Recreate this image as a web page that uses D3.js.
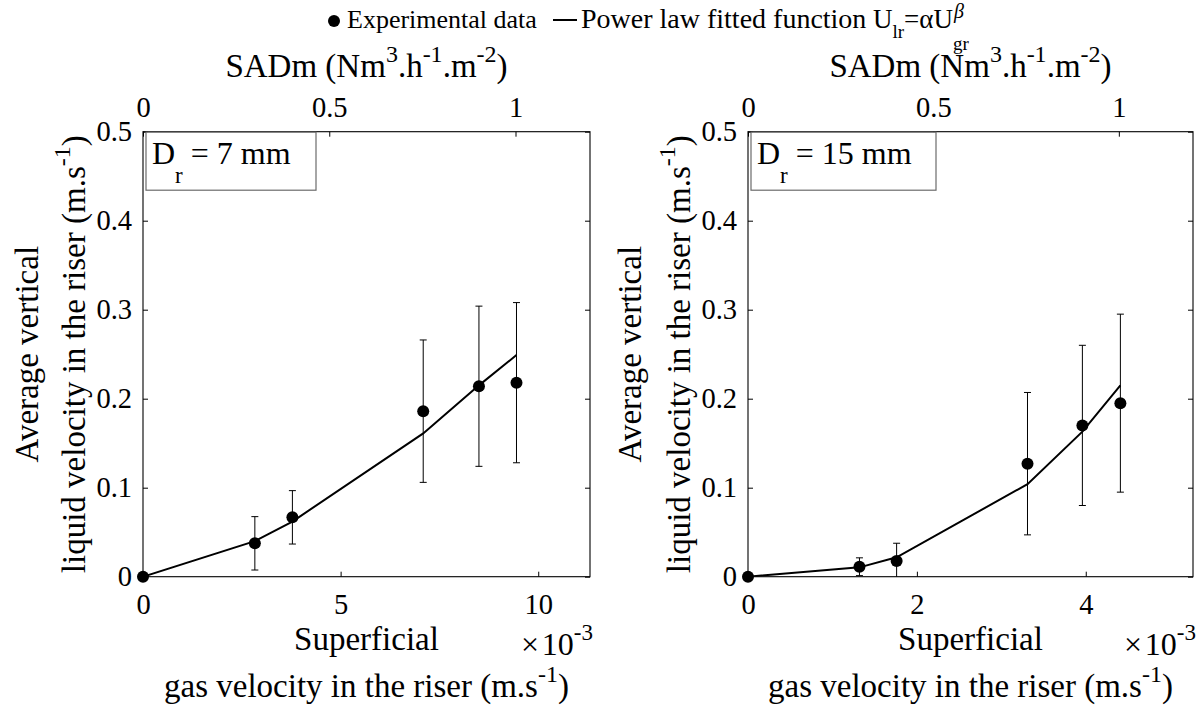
<!DOCTYPE html>
<html>
<head>
<meta charset="utf-8">
<script src="https://cdn.jsdelivr.net/npm/d3@7"></script>
<style>
  html, body { margin: 0; padding: 0; background: #fff; }
  svg { display: block; }
</style>
</head>
<body>
<svg id="chart" width="1200" height="711" font-family="Liberation Serif"></svg>
<script>
// ---------------- data ----------------
// Panel D_r = 7 mm
const ugr7 = [0, 0.00283, 0.00378, 0.00709, 0.00850, 0.00945];   // m/s
const ulr7 = [0, 0.0375, 0.0667, 0.186, 0.214, 0.218];           // m/s
const err7 = [0, 0.030, 0.030, 0.080, 0.090, 0.090];
const fit7 = [0, 0.040, 0.062, 0.161, 0.215, 0.249];
// Panel D_r = 15 mm
const ugr15 = [0, 0.00132, 0.00176, 0.00331, 0.00396, 0.00441];
const ulr15 = [0, 0.0112, 0.0176, 0.127, 0.170, 0.195];
const err15 = [0, 0.010, 0.020, 0.080, 0.090, 0.100];
const fit15 = [0, 0.0105, 0.0218, 0.104, 0.163, 0.215];

const xTicks7 = [0, 0.005, 0.010];
const xTicks15 = [0, 0.002, 0.004];
const xMax7 = 0.01131, xMax15 = 0.00527;
const yTicks = [0, 0.1, 0.2, 0.3, 0.4, 0.5];
const topTicks = [0, 0.5, 1];
const topMax = 1.2;
const panelLabels = ["7 mm", "15 mm"];

// ---------------- layout ----------------
const FONT = "Liberation Serif";
const svg = d3.select("#chart");
const Y0 = 131.7, Y1 = 576.7;
const TICK_FS = 28.5, LABEL_FS = 33;

function txt(sel) { return sel.append("text").attr("font-family", FONT).attr("fill", "#000"); }

function rich(sel, parts, fs) {
  // parts: [text, kind, dy]  kind: 'n' normal, 'sub', 'sup'
  let cur = 0, last = null;
  parts.forEach(p => {
    const [t, kind, off] = p;
    const target = kind === 'n' ? 0 : off;
    last = sel.append("tspan").text(t)
      .attr("dy", target - cur)
      .attr("font-size", kind === 'n' ? fs : Math.round(fs * 0.72));
    cur = target;
  });
  return last;
}

function panel(cfg) {
  const x = d3.scaleLinear().domain([0, cfg.xMax]).range([cfg.x0, cfg.x1]);
  const y = d3.scaleLinear().domain([0, 0.5]).range([Y1, Y0]);
  const xt = d3.scaleLinear().domain([0, topMax]).range([cfg.x0, cfg.x1]);
  const g = svg.append("g");

  const clipId = "clip" + cfg.id;
  svg.append("clipPath").attr("id", clipId).append("rect")
    .attr("x", cfg.x0).attr("y", Y0).attr("width", cfg.x1 - cfg.x0).attr("height", Y1 - Y0);

  const ax = (sel) => {
    sel.attr("font-family", FONT).attr("font-size", TICK_FS);
    sel.selectAll(".domain").remove();
    sel.selectAll("line").attr("stroke", "#000");
    sel.selectAll("text").attr("fill", "#000");
  };
  g.append("g").attr("transform", `translate(0,${Y1})`)
    .call(d3.axisBottom(x).tickValues(cfg.xTicks).tickFormat(d => d3.format("d")(Math.round(d * 1000)))
      .tickSizeInner(-5).tickSizeOuter(0).tickPadding(17)).call(ax);
  g.append("g").attr("transform", `translate(0,${Y0})`)
    .call(d3.axisTop(xt).tickValues(topTicks).tickFormat(d => d === 0 ? "0" : (d === 1 ? "1" : "0.5"))
      .tickSizeInner(-5).tickSizeOuter(0).tickPadding(15)).call(ax);
  g.append("g").attr("transform", `translate(${cfg.x0},0)`)
    .call(d3.axisLeft(y).tickValues(yTicks).tickFormat(d => d === 0 ? "0" : d3.format(".1f")(d))
      .tickSizeInner(-5).tickSizeOuter(0).tickPadding(11)).call(ax);
  g.append("g").attr("transform", `translate(${cfg.x1},0)`)
    .call(d3.axisRight(y).tickValues(yTicks).tickFormat("")
      .tickSizeInner(-5).tickSizeOuter(0)).call(ax);
  g.append("rect").attr("x", cfg.x0).attr("y", Y0).attr("width", cfg.x1 - cfg.x0).attr("height", Y1 - Y0)
    .attr("fill", "none").attr("stroke", "#000").attr("stroke-width", 1.1);

  const data = cfg.ugr.map((u, i) => ({ u, v: cfg.ulr[i], e: cfg.err[i], f: cfg.fit[i] }));
  const pg = g.append("g").attr("clip-path", `url(#${clipId})`);
  // error bars
  const eb = pg.selectAll(".eb").data(data.filter(d => d.e > 0)).enter().append("g");
  eb.append("line").attr("x1", d => x(d.u)).attr("x2", d => x(d.u))
    .attr("y1", d => y(d.v - d.e)).attr("y2", d => y(d.v + d.e)).attr("stroke", "#000").attr("stroke-width", 1);
  [-1, 1].forEach(s => {
    eb.append("line").attr("x1", d => x(d.u) - 3.5).attr("x2", d => x(d.u) + 3.5)
      .attr("y1", d => y(d.v + s * d.e)).attr("y2", d => y(d.v + s * d.e)).attr("stroke", "#000").attr("stroke-width", 1);
  });
  // fitted line
  pg.append("path").datum(data)
    .attr("d", d3.line().x(d => x(d.u)).y(d => y(d.f)))
    .attr("fill", "none").attr("stroke", "#000").attr("stroke-width", 2);
  // markers
  g.selectAll(".pt").data(data).enter().append("circle")
    .attr("cx", d => x(d.u)).attr("cy", d => y(d.v)).attr("r", 6).attr("fill", "#000");

  // D_r box
  g.append("rect").attr("x", cfg.x0 + 3).attr("y", Y0 + 0.5).attr("width", cfg.boxW).attr("height", 58)
    .attr("fill", "#fff").attr("stroke", "#6b6b6b").attr("stroke-width", 1.2);
  const bt = txt(g).attr("x", cfg.x0 + 9).attr("y", 164);
  rich(bt, [["D", 'n'], ["r", 'sub', 19], [" = " + cfg.label, 'n']], 32);

  // top axis label
  const tl = txt(g).attr("x", (cfg.x0 + cfg.x1) / 2).attr("y", 77).attr("text-anchor", "middle");
  rich(tl, [["SADm (Nm", 'n'], ["3", 'sup', -15], [".h", 'n'], ["-1", 'sup', -15], [".m", 'n'], ["-2", 'sup', -15], [")", 'n']], LABEL_FS);

  // bottom axis label
  const cx = (cfg.x0 + cfg.x1) / 2;
  txt(g).attr("x", cx).attr("y", 650).attr("text-anchor", "middle").attr("font-size", LABEL_FS).text("Superficial");
  const bl = txt(g).attr("x", cx).attr("y", 697).attr("text-anchor", "middle");
  rich(bl, [["gas velocity in the riser (m.s", 'n'], ["-1", 'sup', -15], [")", 'n']], LABEL_FS);
  // exponent
  const ex = txt(g).attr("x", cfg.x1 + 3).attr("y", 655).attr("text-anchor", "end");
  rich(ex, [["\u00d7\u200a10", 'n'], ["-3", 'sup', -15]], 32);

  // y label
  const ycx = (Y0 + Y1) / 2;
  txt(g).attr("transform", `translate(${cfg.x0 - cfg.yl1},${ycx}) rotate(-90)`).attr("text-anchor", "middle")
    .attr("font-size", LABEL_FS).text("Average vertical");
  const yl = txt(g).attr("transform", `translate(${cfg.x0 - cfg.yl2},${ycx}) rotate(-90)`).attr("text-anchor", "middle");
  rich(yl, [["liquid velocity in the riser (m.s", 'n'], ["-1", 'sup', -15], [")", 'n']], LABEL_FS);
}

panel({ id: 1, x0: 143, x1: 590, xMax: xMax7, xTicks: xTicks7, ugr: ugr7, ulr: ulr7, err: err7, fit: fit7,
        label: panelLabels[0], boxW: 170, yl1: 105, yl2: 58.5 });
panel({ id: 2, x0: 748, x1: 1193, xMax: xMax15, xTicks: xTicks15, ugr: ugr15, ulr: ulr15, err: err15, fit: fit15,
        label: panelLabels[1], boxW: 185, yl1: 107.5, yl2: 58.5 });

// ---------------- legend ----------------
const leg = svg.append("g");
leg.append("circle").attr("cx", 334).attr("cy", 21).attr("r", 6).attr("fill", "#000");
txt(leg).attr("x", 347).attr("y", 28).attr("font-size", 26).text("Experimental data");
leg.append("line").attr("x1", 553).attr("x2", 577).attr("y1", 20).attr("y2", 20).attr("stroke", "#000").attr("stroke-width", 2);
txt(leg).attr("x", 581).attr("y", 28).attr("font-size", 28).text("Power law fitted function");
const lt = txt(leg).attr("x", 873).attr("y", 28);
const gr = rich(lt, [["U", 'n'], ["lr", 'sub', 10], ["=\u03b1U", 'n'], ["gr", 'sub', 22]], 27);
const grW = gr.node().getComputedTextLength();
lt.append("tspan").text("\u03b2").attr("font-size", 20).attr("font-style", "italic")
  .attr("dy", -32).attr("dx", -grW + 1);
</script>
</body>
</html>
